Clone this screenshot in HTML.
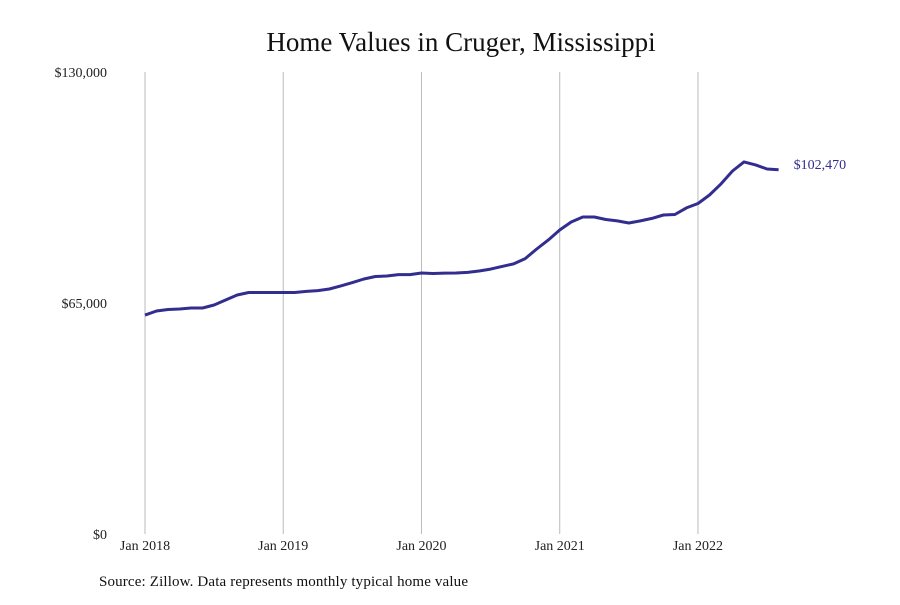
<!DOCTYPE html>
<html><head><meta charset="utf-8"><style>
body{margin:0;background:#fff;}
svg text{font-family:"Liberation Serif",serif;}
</style></head><body>
<svg width="900" height="600">
<text x="461" y="51" font-size="27" text-anchor="middle" fill="#111">Home Values in Cruger, Mississippi</text>
<g id="grid"></g><g id="yaxis"></g><g id="xaxis"></g>
<path id="line" fill="none" stroke="#332d8f" stroke-width="3" stroke-linejoin="round"/>
<text id="endlabel" font-size="14" fill="#332d8f"></text>
<text x="99" y="586" font-size="15" fill="#111" textLength="369">Source: Zillow. Data represents monthly typical home value</text>
</svg>
<script>
const values=[61600,62750,63170,63300,63600,63600,64450,65850,67250,67950,67950,67950,67950,67950,68250,68500,68950,69800,70750,71750,72450,72600,73000,73000,73450,73300,73400,73450,73600,74000,74550,75300,76000,77500,80200,82700,85550,87800,89200,89200,88500,88100,87500,88100,88800,89750,89900,91750,93000,95400,98500,102150,104700,103850,102700,102470];
const yTicks=[0,65000,130000];
const yTickLabels=["$0","$65,000","$130,000"];
const xTickYears=["Jan 2018","Jan 2019","Jan 2020","Jan 2021","Jan 2022"];
const endLabel="$102,470";
const NS="http://www.w3.org/2000/svg";
const x0=145,monthW=11.52,yBase=534,yTop=72,yMax=130000;
const xs=i=>x0+i*monthW;
const ys=v=>yBase-(v/yMax)*(yBase-yTop);
function mk(tag,attrs,parent){const e=document.createElementNS(NS,tag);for(const k in attrs)e.setAttribute(k,attrs[k]);document.getElementById(parent).appendChild(e);return e;}
xTickYears.forEach((lab,k)=>{
  const x=xs(k*12);
  const g=mk('line',{x1:x,x2:x,y1:yTop,y2:yBase,stroke:'#bbb','stroke-width':1},'grid');
  
  
  const t=mk('text',{x:x,y:yBase+16,'font-size':14,'text-anchor':'middle',fill:'#222'},'xaxis');
  t.textContent=lab;
  
  
});
yTicks.forEach((v,k)=>{
  const t=mk('text',{x:107,y:ys(v)+5,'font-size':14,'text-anchor':'end',fill:'#222'},'yaxis');
  t.textContent=yTickLabels[k];
  
  
});
document.getElementById('line').setAttribute('d',values.map((v,i)=>(i?'L':'M')+xs(i).toFixed(1)+','+ys(v).toFixed(1)).join(''));
const el=document.getElementById('endlabel');
const li=values.length-1;
el.setAttribute('x',xs(li)+15);
el.setAttribute('y',ys(values[li])-1);
el.textContent=endLabel;
</script>
</body></html>
